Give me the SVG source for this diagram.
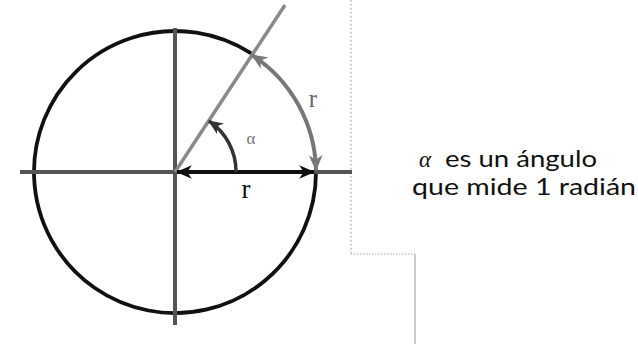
<svg xmlns="http://www.w3.org/2000/svg" width="638" height="344" viewBox="0 0 638 344">
<style>
.axis{stroke:#555;stroke-width:4;fill:none}
.ray{stroke:#8a8a8a;stroke-width:3.5;fill:none}
.circ{stroke:#111;stroke-width:3.8;fill:none}
.garc{stroke:#777;stroke-width:4;fill:none}
.blk{stroke:#111;stroke-width:3.8;fill:none}
.alpha{stroke:#333;stroke-width:3.5;fill:none}
.lbl{font-family:"Liberation Serif",serif}
.txt{font-family:Lato,"Open Sans",sans-serif;font-size:23px;fill:#111}
.frame{stroke:#aaa;stroke-width:1.2;fill:none}
</style>
<defs>
<marker id="ab" viewBox="0 0 14 12" refX="13" refY="6" markerWidth="16" markerHeight="14" markerUnits="userSpaceOnUse" orient="auto-start-reverse"><path d="M0,0 L14,6 L0,12 L4,6 z" fill="#111"/></marker>
<marker id="ag" viewBox="0 0 14 12" refX="13" refY="6" markerWidth="16" markerHeight="14" markerUnits="userSpaceOnUse" orient="auto-start-reverse"><path d="M0,0 L14,6 L0,12 L4,6 z" fill="#777"/></marker>
<marker id="ad" viewBox="0 0 14 12" refX="13" refY="6" markerWidth="15" markerHeight="13" markerUnits="userSpaceOnUse" orient="auto-start-reverse"><path d="M0,0 L14,6 L0,12 L4,6 z" fill="#333"/></marker>
</defs>
<g id="frame">
<path class="frame" d="M351,0 V254" stroke-dasharray="1.5,2.5"/>
<path class="frame" d="M351,254 H415" stroke-dasharray="1.5,1.5"/>
<path class="frame" d="M415,254 V344" stroke="#bbb"/>
</g>
<g id="circle">
<path class="circ" d="M251.2,53.4 A141,141 0 1 0 316,172"/>
</g>
<g id="axes">
<path class="axis" d="M20,172 H352"/>
<path class="axis" d="M175,28 V325"/>
</g>
<g id="ray">
<path class="ray" d="M175,172 L285,5"/>
</g>
<g id="connectors">
<path class="garc" d="M316,170 A141,141 0 0 0 252,55" marker-start="url(#ag)" marker-end="url(#ag)"/>
<path class="blk" d="M177,172 H314" marker-start="url(#ab)" marker-end="url(#ab)"/>
<path class="alpha" d="M236,172 A61,61 0 0 0 209,121" marker-end="url(#ad)"/>
</g>
<g id="labels">
<text class="lbl" x="251" y="144" font-size="17" fill="#777" text-anchor="middle">α</text>
<text class="lbl" x="313" y="107" font-size="25" fill="#666" text-anchor="middle">r</text>
<text class="lbl" x="246" y="198" font-size="27" fill="#111" text-anchor="middle">r</text>
</g>
<g id="caption">
<text x="419" y="167" font-family="'Liberation Serif',serif" font-style="italic" font-size="23" fill="#111">α</text>
<text class="txt" x="445" y="167" textLength="152" lengthAdjust="spacingAndGlyphs">es un ángulo</text>
<text class="txt" x="412" y="195" textLength="224" lengthAdjust="spacingAndGlyphs">que mide 1 radián</text>
</g>
</svg>
